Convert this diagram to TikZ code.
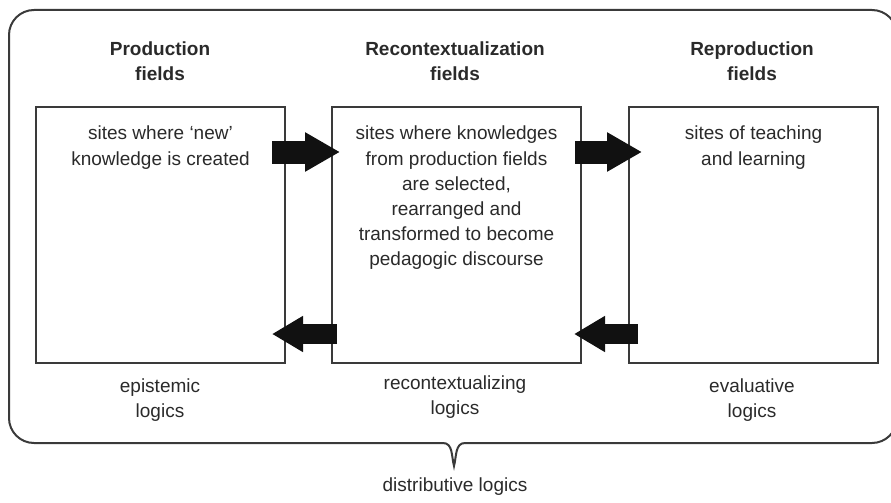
\documentclass[tikz,border=0pt]{standalone}
\usepackage{fontspec}
\setmainfont{Liberation Sans}
\usetikzlibrary{arrows.meta}
\definecolor{ink}{HTML}{2A2A2A}
\definecolor{frame}{HTML}{3A3A3A}
\definecolor{arrowfill}{HTML}{111111}
\tikzset{
  fieldbox/.style={draw=frame, line width=2pt, minimum width=249pt, minimum height=256pt, inner sep=0pt, anchor=north west},
  fieldtext/.style={text=ink, align=center, font=\fontsize{19}{25.2}\selectfont, inner sep=0pt},
  headtext/.style={fieldtext, font=\fontsize{19}{25}\selectfont\bfseries},
  fwdarrow/.style={draw=arrowfill, line width=23pt, -{Triangle[width=37pt,length=35pt]}},
  backarrow/.style={draw=arrowfill, line width=20pt, -{Triangle[width=34pt,length=31pt]}},
  outerframe/.style={draw=frame, line width=2pt}
}
\begin{document}
\begin{tikzpicture}[x=1pt,y=-1pt]
\useasboundingbox (0,0) rectangle (891,503);
\clip (0,0) rectangle (891,503);
% outer frame with notch
\draw[outerframe, rounded corners=25pt] (443,443) -| (9,10) -| (897,443) -- (465,443);
\draw[outerframe] (443,443) to[out=0,in=105] (454,466) to[out=75,in=180] (465,443);
% boxes
\node[fieldbox] (b1) at (35,106) {};
\node[fieldbox] (b2) at (331,106) {};
\node[fieldbox] (b3) at (628,106) {};
% headers
\node[headtext] (h1) at (160,61) {Production\\fields};
\node[headtext] (h2) at (455,61) {Recontextualization\\fields};
\node[headtext] (h3) at (752,61) {Reproduction\\fields};
% box texts
\node[fieldtext, anchor=north] (t1) at ([yshift=-20pt]b1.north) {sites where ‘new’\\knowledge is created};
\node[fieldtext, anchor=north] (t2) at ([yshift=-20pt]b2.north) {sites where knowledges\\from production fields\\are selected,\\rearranged and\\transformed to become\\pedagogic discourse};
\node[fieldtext, anchor=north] (t3) at ([yshift=-20pt]b3.north) {sites of teaching\\and learning};
% logics
\node[fieldtext] (l1) at (160,400) {epistemic\\logics};
\node[fieldtext] (l2) at (455,397) {recontextualizing\\logics};
\node[fieldtext] (l3) at (752,400) {evaluative\\logics};
\node[fieldtext] (l4) at (455,487) {distributive logics};
% arrows
\draw[fwdarrow] ([shift={(-14,46)}]b1.north east) -- ([shift={(9,46)}]b2.north west);
\draw[fwdarrow] ([shift={(-7,46)}]b2.north east) -- ([shift={(14,46)}]b3.north west);
\draw[backarrow] ([shift={(6,-30)}]b2.south west) -- ([shift={(-14,-30)}]b1.south east);
\draw[backarrow] ([shift={(10,-30)}]b3.south west) -- ([shift={(-8,-30)}]b2.south east);
\end{tikzpicture}
\end{document}
